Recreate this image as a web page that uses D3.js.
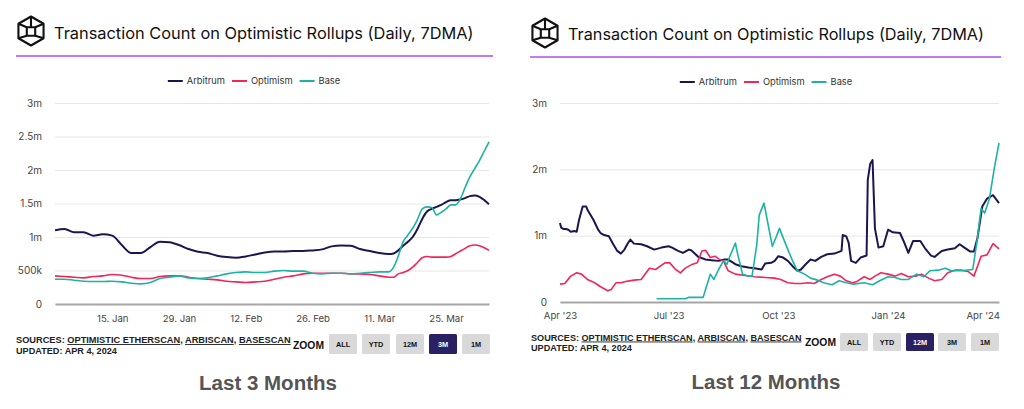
<!DOCTYPE html>
<html><head><meta charset="utf-8">
<script src="https://cdn.jsdelivr.net/npm/d3@7"></script>
<style>
html,body{margin:0;padding:0;background:#fff;}
svg{display:block;}
</style></head>
<body><svg id="c" width="1024" height="409"></svg>
<script>
// ---------- data ----------
const seriesNames = ["Arbitrum", "Optimism", "Base"];
const seriesColors = ["#1b1650", "#f5245a", "#1db3a4"];

// Last 3 months: [days after start3m, value in millions]
const start3m = "2024-01-03";
const end3m = "2024-04-03";
const arb3m = [[0,1.10],[2,1.12],[4,1.07],[6,1.07],[8,1.02],[10,1.04],[12,1.02],[14,0.88],[16,0.76],[18,0.76],[20,0.85],[22,0.93],[24,0.92],[26,0.88],[28,0.82],[30,0.78],[32,0.76],[34,0.72],[36,0.70],[38,0.69],[40,0.71],[42,0.74],[44,0.77],[46,0.785],[48,0.785],[50,0.79],[52,0.79],[54,0.80],[56,0.815],[58,0.86],[60,0.875],[62,0.87],[64,0.82],[66,0.79],[68,0.76],[70,0.745],[71,0.755],[72,0.80],[73,0.87],[74,0.93],[75,1.00],[76,1.12],[77,1.27],[78,1.38],[79,1.42],[80,1.45],[81,1.48],[82,1.52],[83,1.55],[84,1.55],[85,1.56],[86,1.58],[87,1.61],[88,1.62],[89,1.60],[90,1.55],[91,1.49]];
const op3m = [[0,0.42],[2,0.41],[4,0.40],[6,0.39],[8,0.41],[10,0.42],[12,0.44],[14,0.43],[16,0.40],[18,0.38],[20,0.38],[22,0.41],[24,0.42],[26,0.42],[28,0.40],[30,0.38],[32,0.37],[34,0.36],[36,0.34],[38,0.33],[40,0.32],[42,0.33],[44,0.34],[46,0.37],[48,0.40],[50,0.42],[52,0.45],[54,0.46],[56,0.46],[58,0.46],[60,0.46],[62,0.45],[64,0.45],[66,0.44],[68,0.42],[70,0.40],[71,0.40],[72,0.45],[73,0.47],[74,0.50],[75,0.55],[76,0.62],[77,0.69],[78,0.71],[79,0.70],[80,0.70],[81,0.70],[82,0.70],[83,0.71],[84,0.75],[85,0.79],[86,0.83],[87,0.87],[88,0.88],[89,0.87],[90,0.84],[91,0.80]];
const base3m = [[0,0.37],[2,0.37],[4,0.355],[6,0.34],[8,0.335],[10,0.335],[12,0.34],[14,0.33],[16,0.31],[18,0.30],[20,0.32],[22,0.38],[24,0.40],[26,0.42],[28,0.39],[30,0.38],[32,0.39],[34,0.42],[36,0.45],[38,0.47],[40,0.48],[42,0.47],[44,0.47],[46,0.49],[48,0.50],[50,0.49],[52,0.49],[54,0.46],[56,0.45],[58,0.46],[60,0.46],[62,0.45],[64,0.46],[66,0.47],[68,0.48],[70,0.48],[71,0.55],[72,0.72],[73,0.93],[74,1.03],[75,1.13],[76,1.26],[77,1.42],[78,1.45],[79,1.44],[80,1.33],[81,1.37],[82,1.42],[83,1.48],[84,1.48],[85,1.57],[86,1.74],[87,1.90],[88,2.02],[89,2.14],[90,2.28],[91,2.42]];
const yTicks3m = [0, 0.5, 1, 1.5, 2, 2.5, 3];
const yTickLabels3m = ["0", "500k", "1m", "1.5m", "2m", "2.5m", "3m"];
const xTicks3m = ["2024-01-15", "2024-01-29", "2024-02-12", "2024-02-26", "2024-03-11", "2024-03-25"];
const xTickLabels3m = ["15. Jan", "29. Jan", "12. Feb", "26. Feb", "11. Mar", "25. Mar"];

// Last 12 months: [days after start12m, value in millions]
const start12m = "2023-04-01";
const end12m = "2024-04-03";
const arb12m = [[0,1.19],[1,1.12],[3,1.10],[5,1.10],[7,1.09],[9,1.06],[12,1.07],[14,1.06],[16,1.24],[19,1.44],[22,1.44],[23,1.39],[28,1.24],[32,1.09],[34,1.04],[37,1.01],[41,0.99],[44,0.89],[48,0.77],[51,0.73],[54,0.79],[57,0.89],[59,0.94],[62,0.88],[68,0.87],[73,0.84],[79,0.79],[85,0.82],[91,0.84],[94,0.82],[99,0.77],[103,0.74],[108,0.79],[110,0.78],[116,0.68],[122,0.64],[127,0.63],[133,0.62],[138,0.64],[141,0.64],[147,0.57],[152,0.54],[158,0.52],[163,0.51],[169,0.49],[172,0.58],[177,0.59],[180,0.62],[183,0.69],[187,0.67],[191,0.62],[195,0.54],[199,0.47],[202,0.49],[206,0.57],[210,0.64],[214,0.62],[219,0.68],[224,0.72],[230,0.73],[236,0.77],[237,1.01],[240,0.99],[242,0.89],[244,0.62],[248,0.59],[252,0.67],[257,0.70],[258,1.84],[260,2.08],[262,2.14],[264,1.11],[267,0.82],[271,0.84],[275,1.09],[279,1.05],[285,1.04],[288,0.92],[292,0.74],[296,0.92],[302,0.92],[306,0.81],[311,0.70],[314,0.68],[320,0.77],[325,0.79],[331,0.81],[335,0.87],[339,0.82],[344,0.76],[347,0.76],[350,0.97],[354,1.44],[358,1.56],[363,1.61],[368,1.49]];
const op12m = [[0,0.27],[4,0.28],[9,0.39],[14,0.44],[18,0.42],[23,0.34],[29,0.29],[34,0.23],[40,0.17],[43,0.19],[47,0.29],[51,0.29],[55,0.31],[62,0.33],[68,0.34],[75,0.51],[80,0.49],[88,0.59],[92,0.59],[97,0.49],[101,0.44],[105,0.51],[110,0.56],[115,0.59],[119,0.77],[122,0.78],[126,0.67],[130,0.69],[133,0.65],[137,0.62],[141,0.47],[147,0.42],[155,0.40],[163,0.38],[172,0.37],[180,0.36],[185,0.34],[191,0.29],[197,0.28],[202,0.28],[208,0.29],[213,0.28],[219,0.34],[224,0.38],[230,0.42],[235,0.39],[240,0.32],[245,0.29],[249,0.31],[255,0.38],[260,0.34],[264,0.39],[269,0.44],[275,0.42],[281,0.39],[286,0.43],[292,0.38],[298,0.39],[303,0.42],[309,0.36],[314,0.32],[320,0.34],[325,0.44],[331,0.48],[336,0.48],[342,0.46],[347,0.39],[353,0.69],[358,0.71],[363,0.88],[368,0.80]];
const base12m = [[81,0.05],[91,0.05],[105,0.05],[108,0.07],[120,0.07],[122,0.19],[126,0.42],[129,0.34],[133,0.49],[137,0.62],[140,0.57],[142,0.67],[147,0.89],[149,0.72],[153,0.42],[158,0.39],[161,0.39],[165,0.87],[167,1.31],[171,1.49],[174,1.21],[178,0.84],[181,0.97],[184,1.11],[187,0.97],[191,0.79],[195,0.62],[199,0.47],[205,0.42],[210,0.36],[216,0.33],[221,0.29],[228,0.26],[234,0.32],[240,0.29],[246,0.27],[255,0.29],[262,0.26],[268,0.32],[275,0.38],[281,0.37],[286,0.34],[292,0.34],[299,0.42],[305,0.38],[310,0.47],[317,0.48],[323,0.51],[328,0.47],[336,0.47],[346,0.49],[350,0.97],[353,1.41],[356,1.34],[360,1.56],[364,2.01],[368,2.40]];
const yTicks12m = [0, 1, 2, 3];
const yTickLabels12m = ["0", "1m", "2m", "3m"];
const xTicks12m = ["2023-04-01", "2023-07-01", "2023-10-01", "2024-01-01", "2024-04-01"];
const xTickLabels12m = ["Apr '23", "Jul '23", "Oct '23", "Jan '24", "Apr '24"];

const titleText = "Transaction Count on Optimistic Rollups (Daily, 7DMA)";
const sourceNames = ["OPTIMISTIC ETHERSCAN", "ARBISCAN", "BASESCAN"];
const updatedText = "UPDATED: APR 4, 2024";
const zoomButtons = ["ALL", "YTD", "12M", "3M", "1M"];
const captions = ["Last 3 Months", "Last 12 Months"];

// ---------- drawing ----------
const svg = d3.select("#c");
const parse = d3.timeParse("%Y-%m-%d");
const SANS = "Inter, 'Noto Sans', sans-serif";
const HELV = "'Liberation Sans', Arial, sans-serif";

function fit(sel, w) {
  const n = sel.node();
  const fs = parseFloat(sel.attr("font-size"));
  const len = n.getComputedTextLength();
  sel.attr("font-size", (fs * w / len).toFixed(2));
}

function drawPanel(cfg) {
  const g = svg.append("g");
  // icon
  const ic = g.append("g").attr("fill", "none").attr("stroke", "#111").attr("stroke-width", 2.1)
    .attr("stroke-linejoin", "round");
  const cx = cfg.icon[0], cy = cfg.icon[1], r = 14.5;
  const hex = d3.range(6).map(i => {
    const a = (-90 + 60 * i) * Math.PI / 180;
    return [cx + r * Math.cos(a), cy + r * Math.sin(a)];
  });
  ic.append("path").attr("d", "M" + hex.map(p => p.join(",")).join("L") + "Z");
  const s = 4.2;
  ic.append("rect").attr("x", cx - s).attr("y", cy - s + 0.5).attr("width", 2 * s).attr("height", 2 * s);
  ic.append("path").attr("d",
    `M${hex[5][0]},${hex[5][1]}L${cx - s},${cy - s + 0.5}` +
    `M${hex[1][0]},${hex[1][1]}L${cx + s},${cy - s + 0.5}` +
    `M${hex[4][0]},${hex[4][1]}L${cx - s},${cy + s + 0.5}` +
    `M${hex[2][0]},${hex[2][1]}L${cx + s},${cy + s + 0.5}` +
    `M${hex[0][0]},${hex[0][1]}L${cx},${cy - s + 0.5}`);

  // title
  const t = g.append("text").attr("x", cfg.title[0]).attr("y", cfg.title[1])
    .attr("font-family", SANS).attr("font-size", 18).attr("fill", "#111").text(titleText);
  fit(t, cfg.titleW);

  // rule
  g.append("line").attr("x1", cfg.rule[0]).attr("x2", cfg.rule[1]).attr("y1", cfg.rule[2]).attr("y2", cfg.rule[2])
    .attr("stroke", "#b04df0").attr("stroke-width", 1.5);

  // legend
  const lg = g.append("g");
  let lx = 0;
  seriesNames.forEach((nm, i) => {
    lg.append("line").attr("x1", lx).attr("x2", lx + 15).attr("y1", 0).attr("y2", 0)
      .attr("stroke", seriesColors[i]).attr("stroke-width", 2);
    const tt = lg.append("text").attr("x", lx + 19).attr("y", 3.3).attr("font-family", SANS)
      .attr("font-size", 9.3).attr("fill", "#333").text(nm);
    lx += 19 + tt.node().getComputedTextLength() + 7;
  });
  lx -= 7;
  lg.attr("transform", `translate(${cfg.legend[0] - lx / 2},${cfg.legend[1]})`);

  // scales
  const x = d3.scaleTime().domain([parse(cfg.start), parse(cfg.end)]).range([cfg.px0, cfg.px1]);
  const y = d3.scaleLinear().domain([0, 3]).range([cfg.py1, cfg.py0]);

  // y axis with grid
  const ya = g.append("g").attr("transform", `translate(${cfg.px0},0)`)
    .call(d3.axisLeft(y).tickValues(cfg.yTicks).tickFormat((d, i) => cfg.yLabels[i])
      .tickSize(-(cfg.px1 - cfg.px0)).tickPadding(cfg.yPad));
  ya.select(".domain").remove();
  ya.selectAll(".tick line").attr("stroke", "#e6e6e6").attr("stroke-width", 1);
  ya.selectAll(".tick text").attr("font-family", SANS).attr("font-size", 10).attr("fill", "#444");

  // x axis
  const xa = g.append("g").attr("transform", `translate(0,${cfg.py1})`)
    .call(d3.axisBottom(x).tickValues(cfg.xTicks.map(parse)).tickFormat((d, i) => cfg.xLabels[i])
      .tickSize(0).tickPadding(cfg.xPad));
  xa.select(".domain").attr("stroke", "#a6a6a6").attr("stroke-width", 2);
  xa.selectAll(".tick text").attr("font-family", SANS).attr("font-size", 9.6).attr("fill", "#444");
  xa.selectAll(".tick text").each(function () {
    const b = this.getBBox();
    const tr = d3.select(this.parentNode).attr("transform");
    const tx = +tr.match(/translate\(([-\d.]+)/)[1];
    const right = tx + b.x + b.width;
    if (right > cfg.px1 + 1) d3.select(this).attr("dx", -(right - cfg.px1 - 1));
  });

  // lines
  const line = d3.line()
    .x(d => x(d3.timeDay.offset(parse(cfg.start), d[0])))
    .y(d => y(d[1]))
    .curve(cfg.curve);
  cfg.series.forEach((sData, i) => {
    g.append("path").datum(sData).attr("d", line).attr("fill", "none")
      .attr("stroke", seriesColors[i]).attr("stroke-width", i === 0 ? 2 : 1.6)
      .attr("stroke-linejoin", "round");
  });

  // sources
  const st = g.append("text").attr("x", cfg.src[0]).attr("y", cfg.src[1])
    .attr("font-family", HELV).attr("font-weight", "bold").attr("font-size", 9).attr("fill", "#222");
  st.append("tspan").text("SOURCES: ");
  sourceNames.forEach((nm, i) => {
    st.append("tspan").attr("text-decoration", "underline").text(nm);
    if (i < sourceNames.length - 1) st.append("tspan").text(", ");
  });
  fit(st, cfg.srcW);
  const ut = g.append("text").attr("x", cfg.src[0]).attr("y", cfg.src[2])
    .attr("font-family", HELV).attr("font-weight", "bold").attr("font-size", 9).attr("fill", "#222")
    .text(updatedText);
  fit(ut, cfg.updW);

  const zt = g.append("text").attr("x", cfg.zoom[0]).attr("y", cfg.zoom[1])
    .attr("font-family", HELV).attr("font-weight", "bold").attr("font-size", 12).attr("fill", "#111")
    .text("ZOOM");
  fit(zt, 31);

  zoomButtons.forEach((b, i) => {
    const bx = cfg.btnX[i];
    const active = b === cfg.active;
    g.append("rect").attr("x", bx).attr("y", cfg.btnY).attr("width", 28).attr("height", cfg.btnH)
      .attr("rx", 1.5).attr("fill", active ? "#2a2163" : "#d9d9d9");
    g.append("text").attr("x", bx + 14).attr("y", cfg.btnY + cfg.btnH / 2 + 2.6)
      .attr("text-anchor", "middle").attr("font-family", HELV).attr("font-weight", "bold")
      .attr("font-size", 7.3).attr("fill", active ? "#fff" : "#111").text(b);
  });

  const ct = g.append("text").attr("x", cfg.cap[0]).attr("y", cfg.cap[1]).attr("text-anchor", "middle")
    .attr("font-family", HELV).attr("font-weight", "bold").attr("font-size", 20).attr("fill", "#555")
    .text(cfg.caption);
  fit(ct, cfg.capW);
}

drawPanel({
  icon: [31, 31], title: [54, 39], titleW: 420, rule: [16, 493, 56], legend: [254, 81],
  start: start3m, end: end3m, px0: 55, px1: 489, py0: 103, py1: 304,
  yTicks: yTicks3m, yLabels: yTickLabels3m, yPad: 13, xTicks: xTicks3m, xLabels: xTickLabels3m, xPad: 11,
  series: [arb3m, op3m, base3m], curve: d3.curveMonotoneX,
  src: [16, 343, 354], srcW: 275, updW: 101, zoom: [293, 348.5],
  btnX: [329, 362, 396, 429, 462], btnY: 334, btnH: 20, active: "3M",
  cap: [268, 390], capW: 138, caption: captions[0]
});

drawPanel({
  icon: [545, 33], title: [568, 40], titleW: 416, rule: [530, 1001, 57], legend: [766, 82],
  start: start12m, end: end12m, px0: 560, px1: 999, py0: 103, py1: 302,
  yTicks: yTicks12m, yLabels: yTickLabels12m, yPad: 13, xTicks: xTicks12m, xLabels: xTickLabels12m, xPad: 10,
  series: [arb12m, op12m, base12m], curve: d3.curveLinear,
  src: [531, 340.5, 350.5], srcW: 271, updW: 101, zoom: [805, 346],
  btnX: [840, 873, 906, 938, 971], btnY: 333, btnH: 18, active: "12M",
  cap: [766, 389], capW: 149, caption: captions[1]
});
</script>
</body></html>
